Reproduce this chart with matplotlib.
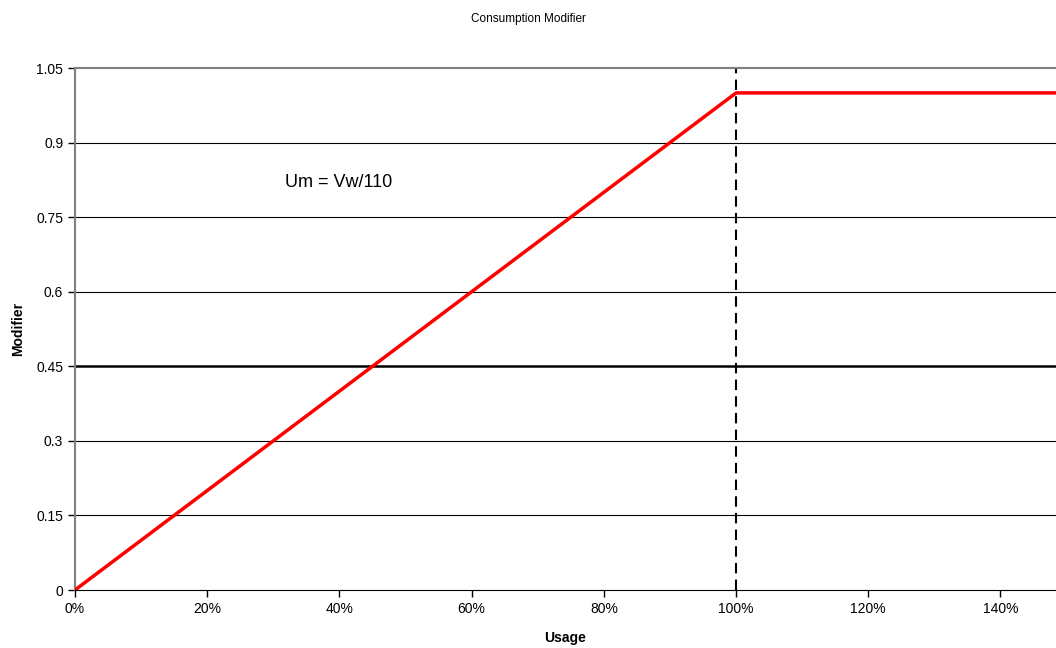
import matplotlib
matplotlib.use("Agg")
import matplotlib.pyplot as plt
from matplotlib.ticker import FuncFormatter

plt.rcParams['font.family'] = ['Liberation Sans', 'DejaVu Sans']

# data
usage = [0.0, 1.0, 1.484]
modifier = [0.0, 1.0, 1.0]
y_ticks = [0, 0.15, 0.3, 0.45, 0.6, 0.75, 0.9, 1.05]
y_labels = ["0", "0.15", "0.3", "0.45", "0.6", "0.75", "0.9", "1.05"]
x_ticks = [0, 0.2, 0.4, 0.6, 0.8, 1.0, 1.2, 1.4]
cap_x = 1.0

fig = plt.figure(figsize=(10.56, 6.48), dpi=100)
ax = fig.add_axes([0.071, 0.0895, 0.929, 0.8055])

for y in y_ticks[1:-1]:
    lw = 1.8 if y == 0.45 else 0.8
    ax.axhline(y, color='black', lw=lw, zorder=1)

ax.plot(usage, modifier, color='#ff0000', lw=2.5, zorder=3)
ax.axvline(cap_x, color='black', lw=1.5, ls=(0, (5, 3)), zorder=2)

ax.text(0.318, 0.82, "Um = Vw/110", fontsize=13, va='center', ha='left')

ax.set_xlim(0, 1.484)
ax.set_ylim(0, 1.05)
ax.set_xticks(x_ticks)
ax.xaxis.set_major_formatter(FuncFormatter(lambda v, p: f"{v * 100:.0f}%"))
ax.set_yticks(y_ticks)
ax.set_yticklabels(y_labels)
ax.tick_params(labelsize=10, direction='out', length=5, width=1, color='black')

ax.spines['right'].set_visible(False)
ax.spines['top'].set_color('gray')
ax.spines['left'].set_color('gray')
ax.spines['top'].set_linewidth(1.5)
ax.spines['left'].set_linewidth(1.5)
ax.spines['bottom'].set_color('black')

ax.set_xlabel("Usage", fontsize=10, fontweight='bold', labelpad=11)
ax.set_ylabel("Modifier", fontsize=10, fontweight='bold', labelpad=8)
fig.suptitle("Consumption Modifier", fontsize=8.5, y=0.98)

fig.savefig("out.png", dpi=100)
